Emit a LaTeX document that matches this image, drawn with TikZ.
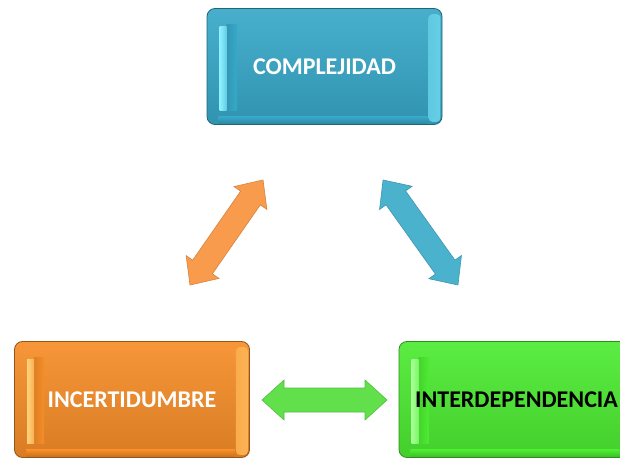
\documentclass[tikz,border=0pt]{standalone}
\usepackage{fontspec}
\setmainfont{Carlito}
\definecolor{cTeal}{HTML}{37A8C8}
\definecolor{lTeal}{HTML}{8EF0FF}
\definecolor{cOrange}{HTML}{F68D28}
\definecolor{lOrange}{HTML}{FFD27A}
\definecolor{cGreen}{HTML}{4DEB32}
\definecolor{lGreen}{HTML}{A8FF98}
\definecolor{aOrange}{HTML}{F99B4C}
\definecolor{aTeal}{HTML}{4BB2CE}
\definecolor{aGreen}{HTML}{62E04B}
\tikzset{
  boxouter/.style={rounded corners=8pt, draw=#1!60!black, line width=0.8pt,
    top color=#1!92!white, bottom color=#1!88!black,
    minimum width=235pt, minimum height=116pt, inner sep=0pt},
  lbl/.style={font=\fontsize{24}{26}\selectfont\bfseries, text=white, inner sep=0pt},
  arr/.style={fill=#1, draw=#1!85!black, line width=0.6pt},
  pics/dblarr/.style n args={2}{code={
    \path[arr=#2] (-#1/2,0) -- ++(22,20) -- ++(0,-8) -- (#1/2-22,12) -- ++(0,8)
      -- (#1/2,0) -- ++(-22,-20) -- ++(0,8) -- (-#1/2+22,-12) -- ++(0,-8) -- cycle;
  }}
}
% #1 name, #2 position, #3 base colour, #4 light colour
\newcommand\bevelbox[4]{%
  \node[boxouter=#3] (#1) at (#2) {};
  \shade[left color=#3!90!black, right color=#3] ([xshift=20pt,yshift=14pt]#1.south west) rectangle ([xshift=30pt,yshift=-16pt]#1.north west);
  \shade[left color=#4, right color=#4!50!#3] ([xshift=13pt,yshift=14pt]#1.south west) rectangle ([xshift=20pt,yshift=-18pt]#1.north west);
  \shade[rounded corners=4pt, left color=#4!45!#3, middle color=#4, right color=#4!55!#3] ([xshift=-14pt,yshift=3pt]#1.south east) rectangle ([xshift=-2pt,yshift=-6pt]#1.north east);
  \shade[top color=#3, bottom color=#3!80!black] ([xshift=12pt,yshift=1pt]#1.south west) rectangle ([xshift=-15pt,yshift=8pt]#1.south east);
}
\begin{document}
\begin{tikzpicture}[x=1pt,y=1pt]
\useasboundingbox (0,0) rectangle (620,458);
\clip (0,0) rectangle (620,458);
\fill[white] (0,0) rectangle (620,458);

% top box
\bevelbox{comp}{324.5,391.5}{cTeal}{lTeal}
\node[lbl] (compt) at (comp.center) {COMPLEJIDAD};

% bottom left box
\bevelbox{inc}{132,58.5}{cOrange}{lOrange}
\node[lbl] (inct) at (inc.center) {INCERTIDUMBRE};

% bottom right box
\bevelbox{inter}{516.5,58.5}{cGreen}{lGreen}
\node[lbl, text=black] (intert) at (inter.center) {INTERDEPENDENCIA};

% arrows
\pic[rotate=55.2] (arrA) at (226.5,225.5) {dblarr={128}{aOrange}};
\pic[rotate=-54.5] (arrB) at (420.5,225.5) {dblarr={129}{aTeal}};
\pic (arrC) at (324.5,58) {dblarr={125}{aGreen}};
\end{tikzpicture}
\end{document}
